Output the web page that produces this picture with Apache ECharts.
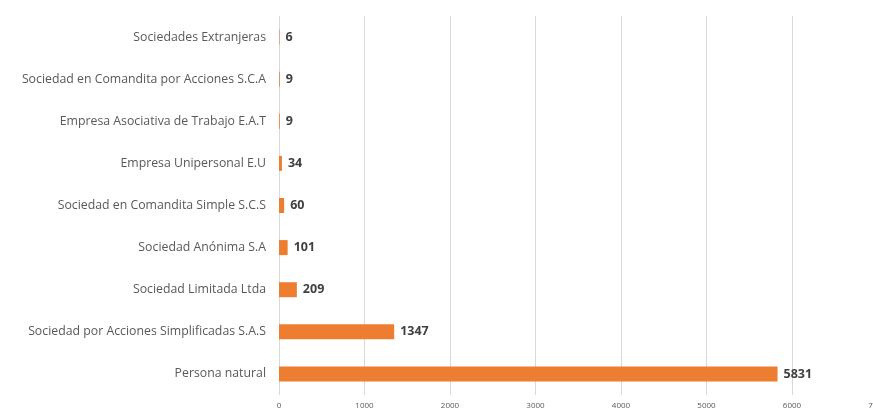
<!DOCTYPE html>
<html>
<head>
<meta charset="utf-8">
<script src="https://cdn.jsdelivr.net/npm/echarts@6/dist/echarts.min.js"></script>
<style>
  html, body { margin: 0; padding: 0; background: #fff; }
  #chart { width: 873px; height: 409px; }
</style>
</head>
<body>
<div id="chart"></div>
<script>
// Company types, bottom to top
const categories = [
  'Persona natural',
  'Sociedad por Acciones Simplificadas S.A.S',
  'Sociedad Limitada Ltda',
  'Sociedad Anónima S.A',
  'Sociedad en Comandita Simple S.C.S',
  'Empresa Unipersonal E.U',
  'Empresa Asociativa de Trabajo E.A.T',
  'Sociedad en Comandita por Acciones S.C.A',
  'Sociedades Extranjeras'
];
const counts = [5831, 1347, 209, 101, 60, 34, 9, 9, 6];
const xTicks = [0, 1000, 2000, 3000, 4000, 5000, 6000, 7000];

const chart = echarts.init(document.getElementById('chart'));
chart.setOption({
  animation: false,
  grid: {
    left: 279, top: 16, width: 598.5, height: 379,
    containLabel: false,
    outerBoundsMode: 'none'
  },
  xAxis: {
    type: 'value',
    min: xTicks[0],
    max: xTicks[xTicks.length - 1],
    interval: 1000,
    axisLine: { show: false },
    axisTick: { show: false },
    splitLine: { show: true, lineStyle: { color: '#d9d9d9', width: 1 } },
    axisLabel: {
      color: '#595959', fontSize: 8, fontFamily: 'Open Sans', margin: 7,
      formatter: v => String(v)
    }
  },
  yAxis: {
    type: 'category',
    data: categories,
    axisLine: { show: false },
    axisTick: { show: false },
    axisLabel: { color: '#595959', fontSize: 12.3, fontFamily: 'Open Sans', margin: 13 }
  },
  series: [{
    type: 'bar',
    data: counts,
    barWidth: 15,
    itemStyle: { color: '#ED7D31' },
    label: {
      show: true,
      position: 'right',
      distance: 6,
      color: '#404040',
      fontWeight: 'bold',
      fontSize: 12.5,
      fontFamily: 'Open Sans'
    }
  }]
});
</script>
</body>
</html>
